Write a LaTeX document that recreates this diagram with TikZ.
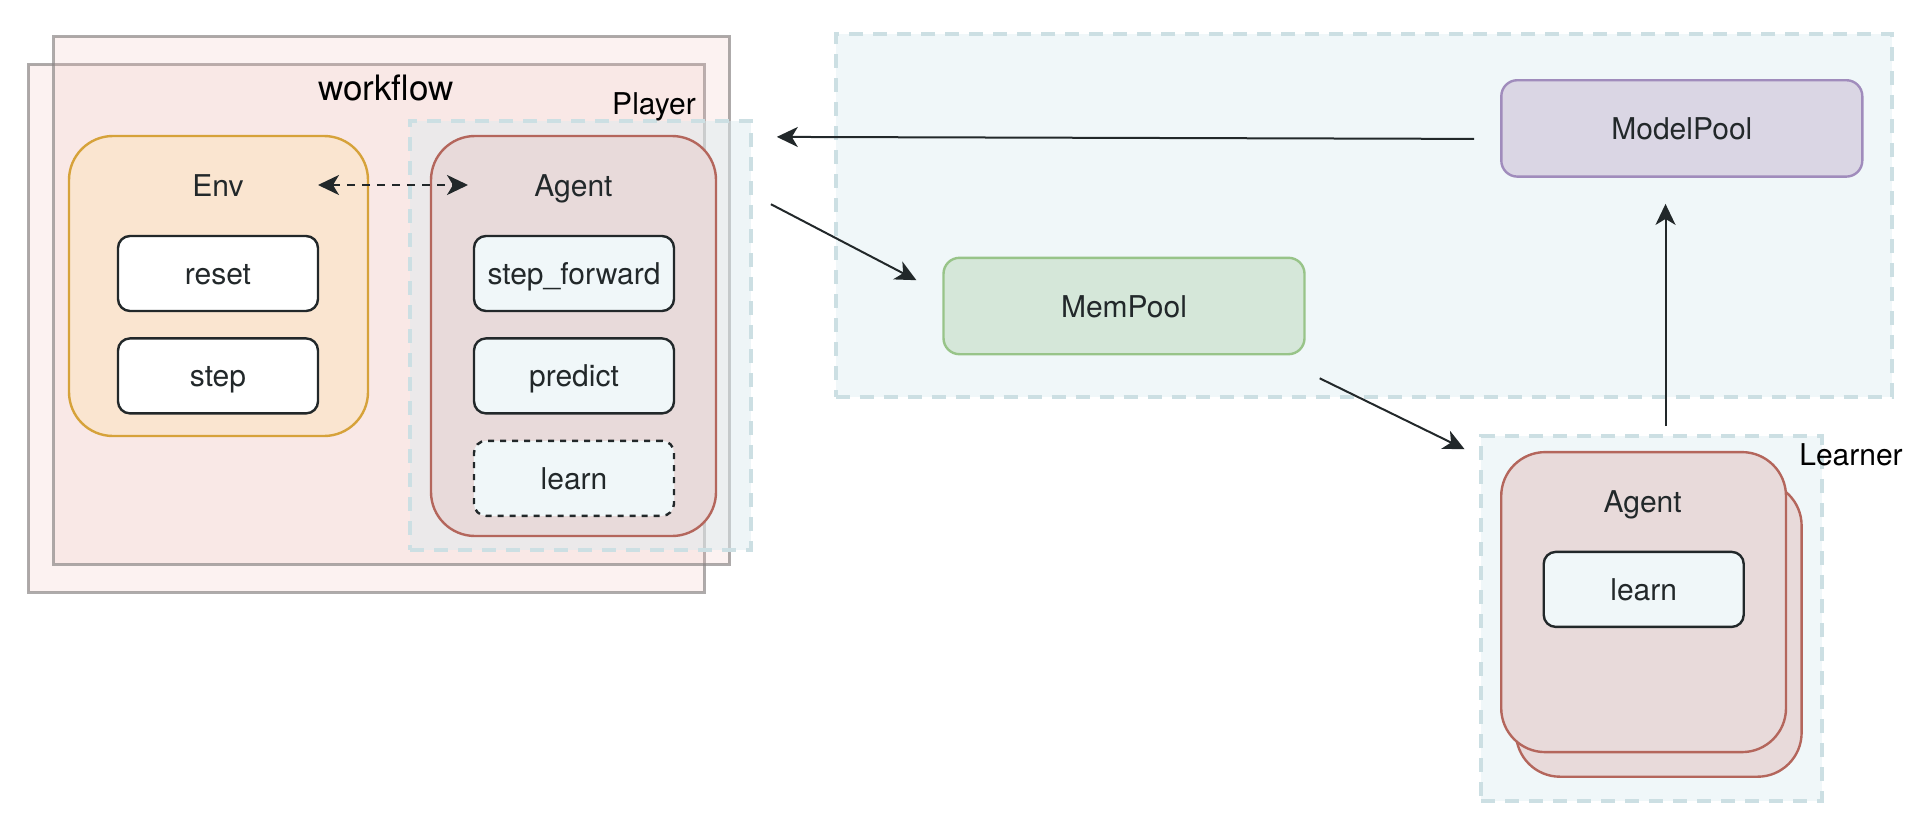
\documentclass[tikz,border=0pt]{standalone}
\usepackage{fontspec}
\setmainfont{TeX Gyre Heros}
\usepackage{tikz}
\usetikzlibrary{arrows.meta, positioning}
\definecolor{colorFrame}{RGB}{140,135,135}
\definecolor{colorWorkflow}{RGB}{238,190,185}
\definecolor{colorDash}{RGB}{204,223,227}
\definecolor{colorPool}{RGB}{240,247,249}
\definecolor{colorPlayer}{RGB}{221,236,239}
\definecolor{colorEnvFill}{RGB}{250,229,208}
\definecolor{colorEnvLine}{RGB}{214,162,58}
\definecolor{colorAgentFill}{RGB}{232,218,218}
\definecolor{colorAgentLine}{RGB}{180,102,92}
\definecolor{colorModelFill}{RGB}{218,214,228}
\definecolor{colorModelLine}{RGB}{160,140,188}
\definecolor{colorMemFill}{RGB}{213,231,217}
\definecolor{colorMemLine}{RGB}{152,196,137}
\definecolor{colorInk}{RGB}{34,40,42}
\tikzset{
  wfbox/.style={draw=colorFrame, draw opacity=0.7, line width=1.5pt, fill=colorWorkflow, fill opacity=0.2, minimum width=338pt, minimum height=264pt, inner sep=0pt},
  dashbox/.style={draw=colorDash, line width=2pt, dash pattern=on 7pt off 5pt, fill=colorPool, inner sep=0pt},
  group/.style={rounded corners=22pt, line width=1.2pt, inner sep=0pt},
  envbox/.style={group, draw=colorEnvLine, fill=colorEnvFill},
  agentbox/.style={group, draw=colorAgentLine, fill=colorAgentFill},
  plain/.style={font=\fontsize{15}{18}\selectfont, text height=12pt, text depth=1pt, inner sep=0pt},
  title/.style={plain, text=colorInk},
  method/.style={title, rounded corners=6pt, draw=colorInk, line width=1.2pt, fill=colorPool, minimum width=100pt, minimum height=37.5pt},
  pool/.style={title, rounded corners=8pt, line width=1.2pt, minimum width=180.5pt, minimum height=48.2pt},
  conn/.style={->, line width=1pt, draw=colorInk}
}

\begin{document}
\begin{tikzpicture}[x=0.5pt, y=-0.5pt, >={Stealth[length=10.5pt, width=10pt, inset=3pt]}, node distance=12.5pt]
\useasboundingbox (0,0) rectangle (1920,830);
% workflow
\node[wfbox] (wfback) at (366,328) {};
\node[wfbox] (wf) at (391.5,300) {};
\node[plain, font=\fontsize{17.5}{21}\selectfont] (wftitle) at (386,89.6) {workflow};
\node[dashbox, fill=colorPlayer, fill opacity=0.5, minimum width=170.5pt, minimum height=214.7pt] (player) at (580.5,335.3) {};
\node[plain] (playertitle) at (654,103) {Player};
% env
\node[envbox, minimum width=149.5pt, minimum height=150pt] (env) at (218.5,286) {};
\node[title] (envtitle) at (218,185) {Env};
\node[method, fill=white] (reset) at (218,273.5) {reset};
\node[method, fill=white, below=of reset] (step) {step};
% agent
\node[agentbox, minimum width=142.5pt, minimum height=200pt] (agent) at (573.5,336) {};
\node[title] (agenttitle) at (573.5,185) {Agent};
\node[method] (stepforward) at (574,273.5) {step\_forward};
\node[method, below=of stepforward] (predict) {predict};
\node[method, dash pattern=on 3pt off 3pt, below=of predict] (learn) {learn};
\draw[<->, line width=1.1pt, draw=colorInk, dash pattern=on 4pt off 3.5pt] ([shift={(100,0)}]envtitle.center) -- ([shift={(-105.5,0)}]agenttitle.center);
% pools
\node[dashbox, minimum width=528.2pt, minimum height=181.4pt] (pools) at (1363.8,215.2) {};
\node[pool, draw=colorModelLine, fill=colorModelFill] (modelpool) at (1681.8,128.4) {ModelPool};
\node[pool, draw=colorMemLine, fill=colorMemFill] (mempool) at (1124,306) {MemPool};
% learner
\node[dashbox, minimum width=170.2pt, minimum height=182.4pt] (learner) at (1651.5,618.2) {};
\node[plain] (learnertitle) at (1851,454.7) {Learner};
\node[agentbox, minimum width=142.8pt, minimum height=147.5pt] (agentback) at (1658.8,629.2) {};
\node[agentbox, minimum width=142.4pt, minimum height=150pt] (learneragent) at (1643.6,602.1) {};
\node[title] (learneragenttitle) at (1642.6,501.1) {Agent};
\node[method] (learnerlearn) at (1643.7,589.4) {learn};
% connectors
\draw[conn] ([shift={(-25.9,10.5)}]modelpool.west) -- ([shift={(23.8,18.3)}]player.north east);
\draw[conn] ([shift={(17.9,85.6)}]player.north east) -- ([shift={(-25.9,-25.8)}]mempool.west);
\draw[conn] ([shift={(14,22.9)}]mempool.south east) -- ([shift={(-14.8,15.3)}]learner.north west);
\draw[conn] ([shift={(14,-7.6)}]learner.north) -- ([shift={(-16.3,26.1)}]modelpool.south);
\end{tikzpicture}
\end{document}
